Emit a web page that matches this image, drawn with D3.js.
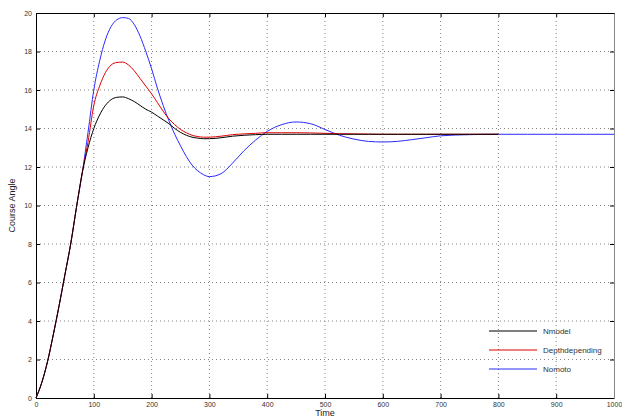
<!DOCTYPE html>
<html>
<head>
<meta charset="utf-8">
<script src="https://cdn.jsdelivr.net/npm/d3@7"></script>
<style>
  body { margin: 0; background: #fff; }
  svg { display: block; font-family: "Liberation Sans", Arial, sans-serif; }
</style>
</head>
<body>
<svg id="chart"></svg>
<script>
// time samples (shared by all series)
const times = [0,10,20,30,40,50,60,70,80,90,100,110,120,130,140,150,160,170,180,190,
  200,210,220,230,240,250,260,270,280,290,300,320,340,360,380,
  400,425,450,475,500,525,550,575,600,625,650,675,700,750,800,850,900,950,1000];

// course angle
const nmodel = [0,0.8,1.9,3.3,4.8,6.4,8.0,9.9,11.7,
  13.0,14.0,14.7,15.2,15.5,15.62,15.64,15.55,15.4,15.2,15.0,
  14.85,14.65,14.45,14.25,14.0,13.8,13.65,13.55,13.5,13.47,13.47,
  13.52,13.6,13.65,13.68,
  13.7,13.7,13.7,13.7,13.7,13.7,13.7,13.7,13.7,13.7,13.7,13.7,13.7,
  13.7,13.7];
const depthdep = [0,0.8,1.9,3.3,4.8,6.4,8.0,9.9,11.7,
  13.3,15.2,16.2,16.9,17.3,17.43,17.45,17.3,17.0,16.6,16.2,
  15.8,15.35,14.9,14.5,14.2,13.95,13.78,13.65,13.58,13.55,13.55,
  13.6,13.68,13.72,13.75,
  13.78,13.78,13.78,13.77,13.75,13.73,13.72,13.71,13.7,13.7,13.7,13.7,13.7,
  13.7,13.7];
const nomoto = [0,0.8,1.9,3.3,4.8,6.4,8.0,9.9,11.7,
  13.8,16.0,17.5,18.6,19.3,19.65,19.76,19.72,19.4,18.8,18.0,
  17.1,16.1,15.2,14.4,13.7,13.1,12.55,12.1,11.8,11.6,11.5,
  11.65,12.2,12.85,13.4,
  13.85,14.2,14.34,14.25,13.95,13.65,13.45,13.33,13.3,13.33,13.42,13.52,13.62,
  13.68,13.7,13.7,13.7,13.7,13.7];

const xTicks = [0,100,200,300,400,500,600,700,800,900,1000];
const yTicks = [0,2,4,6,8,10,12,14,16,18,20];
const seriesNames = ["Nmodel", "Depthdepending", "Nomoto"];
const seriesColors = ["#000000", "#e00000", "#2a2aff"];

const width = 622, height = 417;
const marginTop = 13, marginRight = 8, marginBottom = 19, marginLeft = 36;

const svg = d3.select("#chart")
  .attr("width", width)
  .attr("height", height)
  .attr("viewBox", [0, 0, width, height]);

const x = d3.scaleLinear([0, 1000], [marginLeft, width - marginRight]);
const y = d3.scaleLinear([0, 20], [height - marginBottom, marginTop]);
const fmt = d3.format("d");

// grid
const grid = svg.append("g")
  .attr("stroke", "#666")
  .attr("stroke-width", 0.8)
  .attr("stroke-dasharray", "1,3");
grid.selectAll(".gx")
  .data(xTicks.slice(1, -1))
  .join("line")
    .attr("x1", d => x(d)).attr("x2", d => x(d))
    .attr("y1", y(0)).attr("y2", y(20));
grid.selectAll(".gy")
  .data(yTicks.slice(1, -1))
  .join("line")
    .attr("y1", d => y(d)).attr("y2", d => y(d))
    .attr("x1", x(0)).attr("x2", x(1000));

// axes, ticks pointing inward
svg.append("g")
  .attr("transform", `translate(0,${y(0)})`)
  .call(d3.axisBottom(x).tickValues(xTicks).tickFormat(fmt).tickSizeInner(-4).tickSizeOuter(0).tickPadding(4))
  .call(g => g.selectAll("text").attr("font-size", 7).attr("fill", "#333"));
svg.append("g")
  .attr("transform", `translate(${x(0)},0)`)
  .call(d3.axisLeft(y).tickValues(yTicks).tickFormat(fmt).tickSizeInner(-4).tickSizeOuter(0).tickPadding(4))
  .call(g => g.selectAll("text").attr("font-size", 7).attr("fill", "#333"));
svg.append("g")
  .attr("transform", `translate(0,${y(20)})`)
  .call(d3.axisTop(x).tickValues(xTicks).tickSizeInner(-4).tickSizeOuter(0).tickFormat(""));
svg.append("g")
  .attr("transform", `translate(${x(1000)},0)`)
  .call(d3.axisRight(y).tickValues(yTicks).tickSizeInner(-4).tickSizeOuter(0).tickFormat(""))
  .call(g => g.select(".domain").attr("stroke", "#888"));

// curves
const line = d3.line()
  .x(d => x(d[0]))
  .y(d => y(d[1]))
  .curve(d3.curveMonotoneX);
const series = [nmodel, depthdep, nomoto].map((vals, i) => ({
  name: seriesNames[i],
  color: seriesColors[i],
  points: vals.map((v, j) => [times[j], v])
}));
svg.append("g")
  .attr("fill", "none")
  .attr("stroke-width", 1)
  .selectAll("path")
  .data([series[2], series[1], series[0]])
  .join("path")
    .attr("stroke", d => d.color)
    .attr("d", d => line(d.points));

// axis titles
svg.append("text")
  .attr("x", (x(0) + x(1000)) / 2)
  .attr("y", 416)
  .attr("text-anchor", "middle")
  .attr("font-size", 9)
  .attr("fill", "#222")
  .text("Time");
svg.append("text")
  .attr("transform", `translate(15,${(y(0) + y(20)) / 2}) rotate(-90)`)
  .attr("text-anchor", "middle")
  .attr("font-size", 9)
  .attr("fill", "#222")
  .text("Course Angle");

// legend
const legend = svg.append("g")
  .selectAll("g")
  .data(series)
  .join("g")
    .attr("transform", (d, i) => `translate(489,${331 + i * 19})`);
legend.append("line")
  .attr("x1", 0).attr("x2", 48)
  .attr("stroke", d => d.color)
  .attr("stroke-width", 1);
legend.append("text")
  .attr("x", 54)
  .attr("y", 3)
  .attr("font-size", 8)
  .attr("fill", "#333")
  .text(d => d.name);
</script>
</body>
</html>
